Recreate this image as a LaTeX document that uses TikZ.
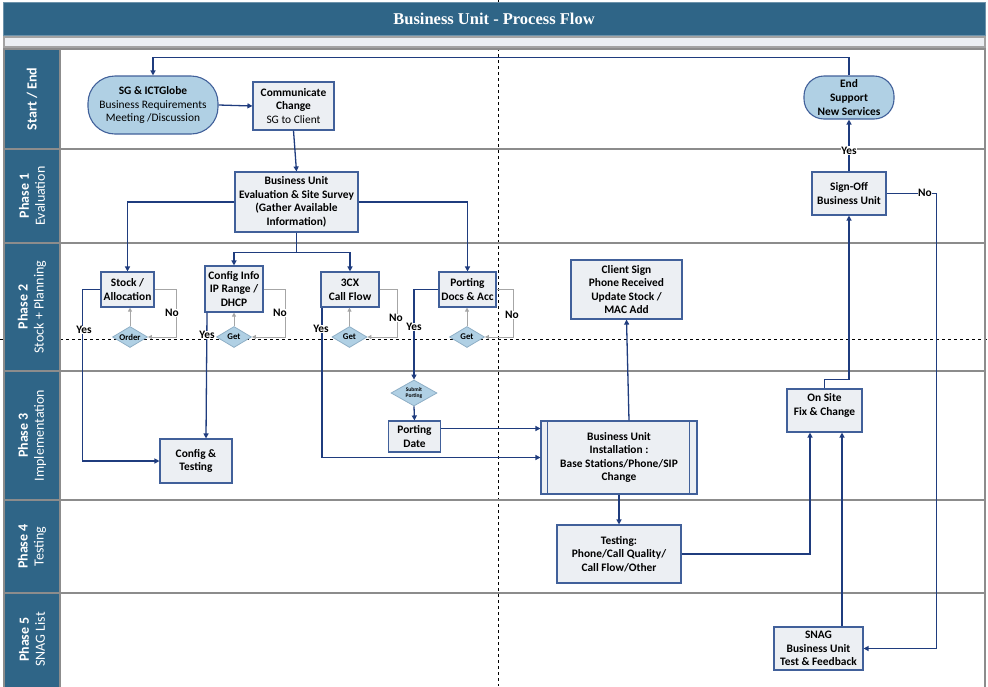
\documentclass[tikz,border=0pt]{standalone}
\usepackage{fontspec}
\setmainfont{Carlito}
\newfontfamily\titlefont{Liberation Serif}
\usetikzlibrary{arrows.meta,shapes.geometric}
\definecolor{barblue}{HTML}{2F6587}
\definecolor{lanegrey}{HTML}{8C8C8C}
\definecolor{boxfill}{HTML}{ECEFF3}
\definecolor{boxline}{HTML}{41609A}
\definecolor{pillfill}{HTML}{B0D0E4}
\definecolor{dmdline}{HTML}{8FAFC6}
\definecolor{flowblue}{HTML}{1F3C7E}
\definecolor{loopgrey}{HTML}{A6A6A6}
\tikzset{
  proc/.style={draw=boxline, fill=boxfill, line width=1.1pt, align=center, inner sep=1pt,
    font=\fontsize{11.4}{13.6}\selectfont\bfseries},
  pill/.style={draw=boxline, fill=pillfill, line width=1.1pt, align=center, inner sep=1pt,
    font=\fontsize{11.4}{13.6}\selectfont},
  dmd/.style={diamond, aspect=1.7, draw=dmdline, fill=pillfill, line width=0.8pt, inner sep=0pt,
    minimum width=35pt, minimum height=21pt, font=\fontsize{8.8}{9}\selectfont\bfseries},
  flow/.style={draw=flowblue, line width=1.3pt, -{Triangle[length=5pt,width=5pt]}},
  loopback/.style={draw=loopgrey, line width=1pt, -{Triangle[length=4pt,width=4pt]}},
  lbl/.style={fill=white, inner sep=0.5pt, font=\fontsize{11.4}{12}\selectfont\bfseries},
  lane/.style={draw=lanegrey, line width=2pt},
  lanetxt/.style={rotate=90, text=white, align=center, font=\fontsize{14}{16}\selectfont}
}
\begin{document}
\begin{tikzpicture}[x=1pt, y=-1pt]
\useasboundingbox (0,0) rectangle (988,686);
% guide lines
\draw[dashed, line width=0.6pt] (498,0) -- (498,686);
\draw[dashed, line width=0.6pt] (0,339) -- (988,339);
% swim lanes
\draw[lane] (4,49) rectangle (985,149);
\draw[lane, fill=barblue] (4,49) rectangle (60,149);
\draw[lane] (4,149) rectangle (985,243);
\draw[lane, fill=barblue] (4,149) rectangle (60,243);
\draw[lane] (4,243) rectangle (985,371);
\draw[lane, fill=barblue] (4,243) rectangle (60,371);
\draw[lane] (4,371) rectangle (985,500);
\draw[lane, fill=barblue] (4,371) rectangle (60,500);
\draw[lane] (4,500) rectangle (985,593);
\draw[lane, fill=barblue] (4,500) rectangle (60,593);
\draw[lane] (4,593) rectangle (985,692);
\draw[lane, fill=barblue] (4,593) rectangle (60,692);
\node[lanetxt] (lane0) at (32,99) {\bfseries Start / End};
\node[lanetxt] (lane1) at (32,196) {\bfseries Phase 1\\Evaluation};
\node[lanetxt] (lane2) at (32,307) {\bfseries Phase 2\\Stock + Planning};
\node[lanetxt] (lane3) at (32,435.5) {\bfseries Phase 3\\Implementation};
\node[lanetxt] (lane4) at (32,546.5) {\bfseries Phase 4\\Testing};
\node[lanetxt] (lane5) at (32,639.5) {\bfseries Phase 5\\SNAG List};
% title
\draw[draw=barblue!70!white, fill=barblue] (3,2) rectangle (985,35);
\node[text=white, font=\titlefont\bfseries\fontsize{16.5}{20}\selectfont] (title) at (494,18.5) {Business Unit - Process Flow};
\draw[lanegrey!80, line width=1.5pt, fill=boxfill] (4,37) rectangle (985,47);
% steps
\node[pill, rounded corners=27pt, minimum width=130pt, minimum height=58pt] (start) at (153,105) {\textbf{SG \& ICTGlobe}\\Business Requirements\\Meeting /Discussion};
\node[proc, minimum width=81pt, minimum height=48pt] (comm) at (293.5,106) {Communicate\\Change\\\mdseries SG to Client};
\node[proc, minimum width=123pt, minimum height=60pt] (eval) at (296.5,202) {Business Unit\\Evaluation \& Site Survey\\(Gather Available\\Information)};
\node[proc, minimum width=53pt, minimum height=35pt] (stock) at (127.5,289.5) {Stock /\\Allocation};
\node[proc, minimum width=58pt, minimum height=46pt] (config) at (234,289) {Config Info\\IP Range /\\DHCP};
\node[proc, minimum width=58pt, minimum height=35pt] (callflow) at (350,289.5) {3CX\\Call Flow};
\node[proc, minimum width=57pt, minimum height=35pt] (porting) at (467.5,289.5) {Porting\\Docs \& Acc};
\node[proc, minimum width=111pt, minimum height=59pt] (client) at (626.5,289.5) {Client Sign\\Phone Received\\Update Stock /\\MAC Add};
\node[dmd] (order) at (130,337) {Order};
\node[dmd] (getip) at (234,337) {Get};
\node[dmd] (getcx) at (349.5,337) {Get};
\node[dmd] (getdocs) at (467,337) {Get};
\node[dmd, minimum width=46pt, minimum height=26pt, align=center, font=\fontsize{5.5}{6.5}\selectfont\bfseries] (submit) at (414,393) {Submit\\Porting};
\node[proc, minimum width=52pt, minimum height=31pt] (portdate) at (414.5,436.5) {Porting\\Date};
\node[proc, minimum width=72pt, minimum height=44pt] (cfgtest) at (196,461) {Config \&\\Testing};
\node[proc, minimum width=156pt, minimum height=73pt] (install) at (619,457.5) {Business Unit\\Installation :\\Base Stations/Phone/SIP\\Change};
\draw[boxline, line width=1.1pt] ([xshift=7]install.north west) -- ([xshift=7]install.south west);
\draw[boxline, line width=1.1pt] ([xshift=-8]install.north east) -- ([xshift=-8]install.south east);
\node[proc, minimum width=124pt, minimum height=58pt] (testing) at (619,554) {Testing:\\Phone/Call Quality/\\Call Flow/Other};
\node[proc, minimum width=75pt, minimum height=43pt, text depth=12pt] (onsite) at (824.5,410.5) {On Site\\Fix \& Change};
\node[proc, minimum width=74pt, minimum height=43pt] (signoff) at (849,193.5) {Sign-Off\\Business Unit};
\node[pill, rounded corners=20pt, minimum width=90pt, minimum height=43pt, font=\fontsize{11.4}{13.6}\selectfont\bfseries] (endnode) at (849,97.5) {End\\Support\\New Services};
\node[proc, minimum width=89pt, minimum height=43pt] (snag) at (818.5,648.5) {SNAG\\Business Unit\\Test \& Feedback};
% flow
\draw[flow] (endnode.north) -- ++(0,-18) -| (start.north);
\draw[flow] (start.east) -- (comm.west);
\draw[flow] (comm.south) -- (eval.north);
\draw[flow] (eval.west) -| (stock.north);
\draw[flow] (eval.east) -| (porting.north);
\draw[flow] (eval.south) -- ++(0,20) coordinate (split) -| (config.north);
\draw[flow] (split) -| (callflow.north);
\draw[flow] (stock.west) -- ++(-18,0) |- (cfgtest.west);
\draw[flow] ([xshift=-27]config.south) -- ([xshift=10]cfgtest.north);
\draw[flow] ([xshift=-28]callflow.south) |- (install.west);
\draw[flow] (porting.west) -| (submit.north);
\draw[flow] (submit.south) -- (portdate.north);
\draw[flow] ([yshift=8]portdate.east) -- ([yshift=8]portdate.east -| install.west);
\draw[flow] ([xshift=10]install.north) -- (client.south);
\draw[flow] (install.south) -- (testing.north);
\draw[flow] (testing.east) -| ([xshift=-14.5]onsite.south);
\draw[flow] ([xshift=23.5]snag.north) -- ([xshift=23.5]snag.north |- onsite.south);
\draw[flow] (onsite.north) -- ++(0,-9) -| (signoff.south);
\draw[flow] (signoff.north) -- node[lbl, pos=0.4] (yes5) {Yes} (endnode.south);
\draw[flow] (signoff.east) -- ++(50,0) |- (snag.east);
% loops back
\draw[loopback] (stock.east) -- ++(22,0) |- (order.east);
\draw[loopback] (order.north) -- (order.north |- stock.south);
\draw[loopback] (config.east) -- ++(22,0) |- (getip.east);
\draw[loopback] (getip.north) -- (config.south);
\draw[loopback] (callflow.east) -- ++(18,0) |- (getcx.east);
\draw[loopback] (getcx.north) -- (getcx.north |- callflow.south);
\draw[loopback] (porting.east) -- ++(17,0) |- (getdocs.east);
\draw[loopback] (getdocs.north) -- (getdocs.north |- porting.south);
% labels
\node[lbl] (yes1) at (84,330) {Yes};
\node[lbl] (yes2) at (207,335) {Yes};
\node[lbl] (yes3) at (321,329) {Yes};
\node[lbl] (yes4) at (414,327) {Yes};
\node[lbl] (no1) at (172,313) {No};
\node[lbl] (no2) at (280,313) {No};
\node[lbl] (no3) at (396,318) {No};
\node[lbl] (no4) at (512,315) {No};
\node[lbl] (no5) at (925,193) {No};
\end{tikzpicture}
\end{document}
